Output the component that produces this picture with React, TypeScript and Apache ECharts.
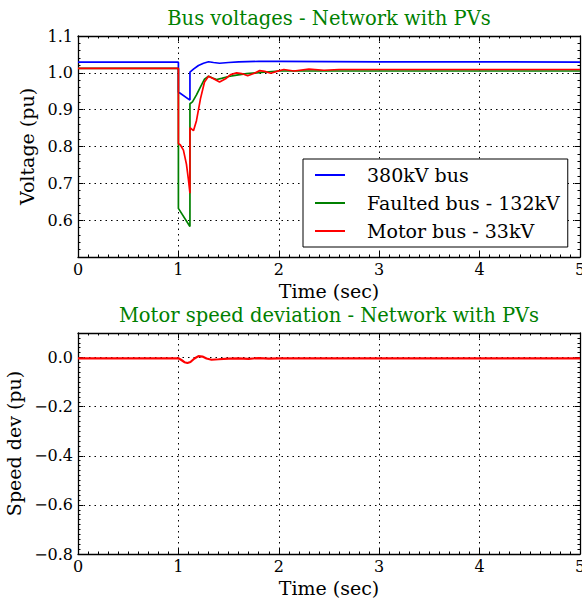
import React, { useEffect, useRef } from "react";
import * as echarts from "echarts";

const FONT = "DejaVu Serif";

const TITLE_TOP = "Bus voltages - Network with PVs";
const TITLE_BOTTOM = "Motor speed deviation - Network with PVs";
const X_NAME = "Time (sec)";
const Y_NAME_TOP = "Voltage (pu)";
const Y_NAME_BOTTOM = "Speed dev (pu)";

const SERIES_NAMES = ["380kV bus", "Faulted bus - 132kV", "Motor bus - 33kV"];
const SERIES_COLORS = ["#0000ff", "#008000", "#ff0000"];

// 380kV bus
const T_BLUE = [0, 1.0, 1.0, 1.115, 1.115, 1.15, 1.2, 1.25, 1.3, 1.35, 1.41, 1.5, 1.6, 1.8, 2.0, 3.0, 4.0, 5.0];
const V_BLUE = [1.029, 1.029, 0.948, 0.926, 1.002, 1.01, 1.02, 1.026, 1.03, 1.028, 1.026, 1.028, 1.03, 1.031, 1.031, 1.03, 1.03, 1.029];

// Faulted bus - 132kV
const T_GREEN = [0, 1.0, 1.0, 1.115, 1.115, 1.14, 1.18, 1.22, 1.26, 1.3, 1.34, 1.38, 1.43, 1.5, 1.58, 1.68, 1.78, 1.9, 2.0, 2.5, 3, 4, 5];
const V_GREEN = [1.012, 1.012, 0.632, 0.583, 0.916, 0.921, 0.94, 0.962, 0.983, 0.991, 0.986, 0.982, 0.985, 0.99, 0.994, 0.998, 1.0, 1.003, 1.005, 1.005, 1.005, 1.005, 1.005];

// Motor bus - 33kV
const T_RED = [0, 1.0, 1.0, 1.02, 1.05, 1.08, 1.1, 1.115, 1.115, 1.15, 1.18, 1.22, 1.26, 1.3, 1.35, 1.41, 1.47, 1.52, 1.58, 1.63, 1.69, 1.75, 1.81, 1.86, 1.92, 1.98, 2.05, 2.15, 2.3, 2.45, 2.6, 3, 4, 5];
const V_RED = [1.012, 1.012, 0.808, 0.804, 0.79, 0.752, 0.71, 0.673, 0.851, 0.843, 0.87, 0.93, 0.975, 0.991, 0.984, 0.975, 0.984, 0.995, 1.0, 0.998, 0.992, 0.998, 1.006, 1.004, 0.999, 1.004, 1.009, 1.005, 1.01, 1.007, 1.009, 1.009, 1.009, 1.009];

// Motor speed deviation
const T_SPEED = [0, 1.0, 1.03, 1.06, 1.09, 1.12, 1.16, 1.2, 1.24, 1.28, 1.33, 1.4, 1.5, 1.6, 1.7, 1.8, 1.9, 2.0, 2.5, 3, 4, 5];
const V_SPEED = [-0.003, -0.003, -0.01, -0.019, -0.022, -0.018, -0.004, 0.006, 0.004, -0.004, -0.009, -0.007, -0.004, -0.003, -0.005, -0.002, -0.004, -0.003, -0.003, -0.003, -0.003, -0.003];

const zip = (t: number[], v: number[]) => t.map((x, i) => [x, v[i]]);

const fmt = (v: number) => {
  const r = Math.round(v * 10) / 10;
  return r.toFixed(1).replace("-", "\u2212");
};

export default function App() {
  const ref = useRef<HTMLDivElement>(null);
  useEffect(() => {
    document.body.style.margin = "0";
    const chart = echarts.init(ref.current!, null, { renderer: "svg" });

    const grids = [
      { left: 78, top: 36, width: 502, height: 221, outerBoundsMode: "none", containLabel: false },
      { left: 78, top: 333, width: 502, height: 221, outerBoundsMode: "none", containLabel: false },
    ];

    const tickCommon = {
      axisTick: { show: true, inside: true, length: 5, lineStyle: { color: "#000", width: 1 } },
      minorTick: { show: true, length: 2.5, lineStyle: { color: "#000", width: 1 } },
      axisLine: { show: true, onZero: false, lineStyle: { color: "#000", width: 1.3 } },
    };
    const splitLine = { show: true, lineStyle: { color: "#000", type: [1.5, 4], width: 1 } };

    const xAxisFor = (g: number, primary: boolean) => ({
      type: "value",
      gridIndex: g,
      position: primary ? "bottom" : "top",
      min: 0,
      max: 5,
      interval: 1,
      ...tickCommon,
      minorTick: { ...tickCommon.minorTick, splitNumber: 10 },
      axisLabel: primary
        ? { show: true, fontFamily: FONT, fontSize: 16, color: "#000", margin: 4 }
        : { show: false },
      splitLine: primary ? splitLine : { show: false },
      name: primary ? X_NAME : "",
      nameLocation: "middle",
      nameGap: 24,
      nameTextStyle: { fontFamily: FONT, fontSize: 19, color: "#000" },
    });

    const yAxisFor = (g: number, primary: boolean) => {
      const top = g === 0;
      return {
        type: "value",
        gridIndex: g,
        position: primary ? "left" : "right",
        min: top ? 0.5 : -0.8,
        max: top ? 1.1 : 0.1,
        interval: top ? 0.1 : 0.2,
        ...tickCommon,
        minorTick: { ...tickCommon.minorTick, splitNumber: top ? 5 : 10 },
        axisLabel: primary
          ? {
              show: true,
              fontFamily: FONT,
              fontSize: 16,
              color: "#000",
              margin: 5,
              formatter: (v: number) => {
                if (top && Math.abs(v - 0.5) < 1e-6) return "";
                if (!top && Math.abs(v - 0.1) < 1e-6) return "";
                return fmt(v);
              },
            }
          : { show: false },
        splitLine: primary ? splitLine : { show: false },
        name: primary ? (top ? Y_NAME_TOP : Y_NAME_BOTTOM) : "",
        nameLocation: "middle",
        nameGap: top ? 32 : 48.5,
        nameTextStyle: { fontFamily: FONT, fontSize: 19, color: "#000" },
      };
    };

    const lineSeries = (name: string, data: number[][], color: string, xi: number, yi: number, w: number) => ({
      type: "line",
      name,
      data,
      xAxisIndex: xi,
      yAxisIndex: yi,
      showSymbol: false,
      symbol: "none",
      smooth: false,
      lineStyle: { color, width: w },
      itemStyle: { color },
      z: 3,
    });

    chart.setOption({
      animation: false,
      backgroundColor: "#fff",
      grid: grids,
      xAxis: [xAxisFor(0, true), xAxisFor(0, false), xAxisFor(1, true), xAxisFor(1, false)],
      yAxis: [yAxisFor(0, true), yAxisFor(0, false), yAxisFor(1, true), yAxisFor(1, false)],
      legend: {
        data: SERIES_NAMES,
        orient: "vertical",
        left: 303,
        top: 159,
        icon: "rect",
        itemWidth: 30,
        itemHeight: 2,
        itemGap: 8,
        padding: [6, 8, 6, 12],
        borderColor: "#000",
        borderWidth: 1,
        backgroundColor: "#fff",
        borderRadius: 0,
        textStyle: { fontFamily: FONT, fontSize: 19, color: "#000", lineHeight: 20, padding: [0, 0, 0, 17] },
        selectedMode: false,
      },
      graphic: [
        {
          type: "text",
          x: 329,
          y: 18,
          style: { text: TITLE_TOP, fill: "#008000", font: `19.5px "${FONT}"`, textAlign: "center", textVerticalAlign: "middle" },
        },
        {
          type: "text",
          x: 329,
          y: 315,
          style: { text: TITLE_BOTTOM, fill: "#008000", font: `19.5px "${FONT}"`, textAlign: "center", textVerticalAlign: "middle" },
        },
      ],
      series: [
        lineSeries(SERIES_NAMES[0], zip(T_BLUE, V_BLUE), SERIES_COLORS[0], 0, 0, 1.7),
        lineSeries(SERIES_NAMES[1], zip(T_GREEN, V_GREEN), SERIES_COLORS[1], 0, 0, 1.7),
        lineSeries(SERIES_NAMES[2], zip(T_RED, V_RED), SERIES_COLORS[2], 0, 0, 1.7),
        lineSeries("Speed deviation", zip(T_SPEED, V_SPEED), SERIES_COLORS[2], 2, 2, 2.2),
      ],
    });
    return () => chart.dispose();
  }, []);
  return <div ref={ref} style={{ width: 582, height: 598 }} />;
}
